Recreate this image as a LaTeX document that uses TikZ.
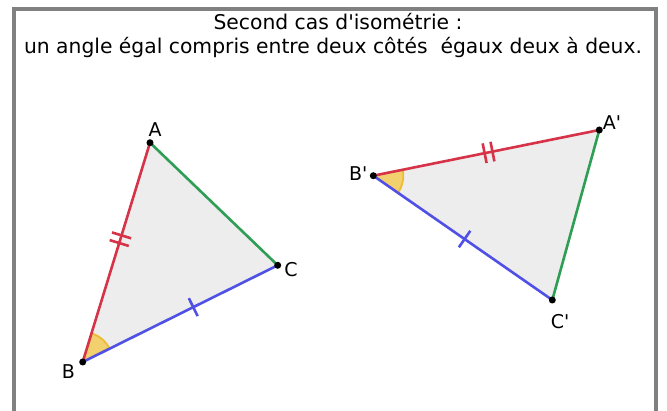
\documentclass[tikz,border=0pt]{standalone}
\usepackage{fontspec}
\setmainfont{DejaVu Sans}[Ligatures=TeXOff]
\usetikzlibrary{angles,decorations.markings}
\definecolor{redE}{RGB}{214,51,72}
\definecolor{greenE}{RGB}{46,158,84}
\definecolor{blueE}{RGB}{80,80,230}
\definecolor{triFill}{RGB}{237,237,237}
\definecolor{angFill}{RGB}{242,208,110}
\definecolor{angDraw}{RGB}{236,188,50}
\definecolor{frameC}{RGB}{128,128,128}
\tikzset{
  edge/.style={line width=2.6pt},
  ptdot/.style={circle,fill=black,inner sep=0pt,minimum size=7pt},
  lbl/.style={font=\fontsize{19}{22}\selectfont,inner sep=0pt},
  angw/.style={draw=angDraw,fill=angFill,line width=1.8pt,angle radius=30pt},
  onetick/.style={decoration={markings,mark=at position #1 with {\draw[line width=2.6pt] (0,-10pt)--(0,10pt);}},postaction={decorate}},
  twotick/.style={decoration={markings,mark=at position #1 with {\draw[line width=2.6pt] (-4pt,-10pt)--(-4pt,10pt); \draw[line width=2.6pt] (4pt,-10pt)--(4pt,10pt);}},postaction={decorate}},
  title/.style={font=\fontsize{20.3}{24}\selectfont,anchor=base,inner sep=0pt}
}
\begin{document}
\begin{tikzpicture}[x=1pt,y=-1pt]
\useasboundingbox (0,0) rectangle (667,411);
\fill[white] (0,0) rectangle (667,411);
\draw[frameC,line width=4pt] (14,415) -- (14,9) -- (655.5,9) -- (655.5,415);
\node[title] (t1) at (338,30) {Second cas d'isométrie :};
\node[title] (t2) at (333,54) {un angle égal compris entre deux côtés\ \ égaux deux à deux.};
% triangle ABC
\coordinate (A) at (150,142.7);
\coordinate (B) at (82.7,362);
\coordinate (C) at (277.7,265.3);
% triangle A'B'C'
\coordinate (A2) at (599.3,130);
\coordinate (B2) at (373.3,175.7);
\coordinate (C2) at (552.3,300);
\fill[triFill] (A) -- (B) -- (C) -- cycle;
\fill[triFill] (A2) -- (B2) -- (C2) -- cycle;
\pic[angw] {angle = C--B--A};
\pic[angw] {angle = C2--B2--A2};
\draw[edge,redE,twotick=0.56] (B) -- (A);
\draw[edge,greenE] (A) -- (C);
\draw[edge,blueE,onetick=0.567] (B) -- (C);
\draw[edge,redE,twotick=0.51] (B2) -- (A2);
\draw[edge,greenE] (A2) -- (C2);
\draw[edge,blueE,onetick=0.51] (B2) -- (C2);
\foreach \p in {A,B,C,A2,B2,C2} \node[ptdot] at (\p) {};
\node[lbl] (lA) at (155,130) {A};
\node[lbl] (lB) at (68.3,371.7) {B};
\node[lbl] (lC) at (291,270) {C};
\node[lbl] (lB2) at (358.3,174) {B'};
\node[lbl] (lA2) at (612,123) {A'};
\node[lbl] (lC2) at (560,321.7) {C'};
\end{tikzpicture}
\end{document}
